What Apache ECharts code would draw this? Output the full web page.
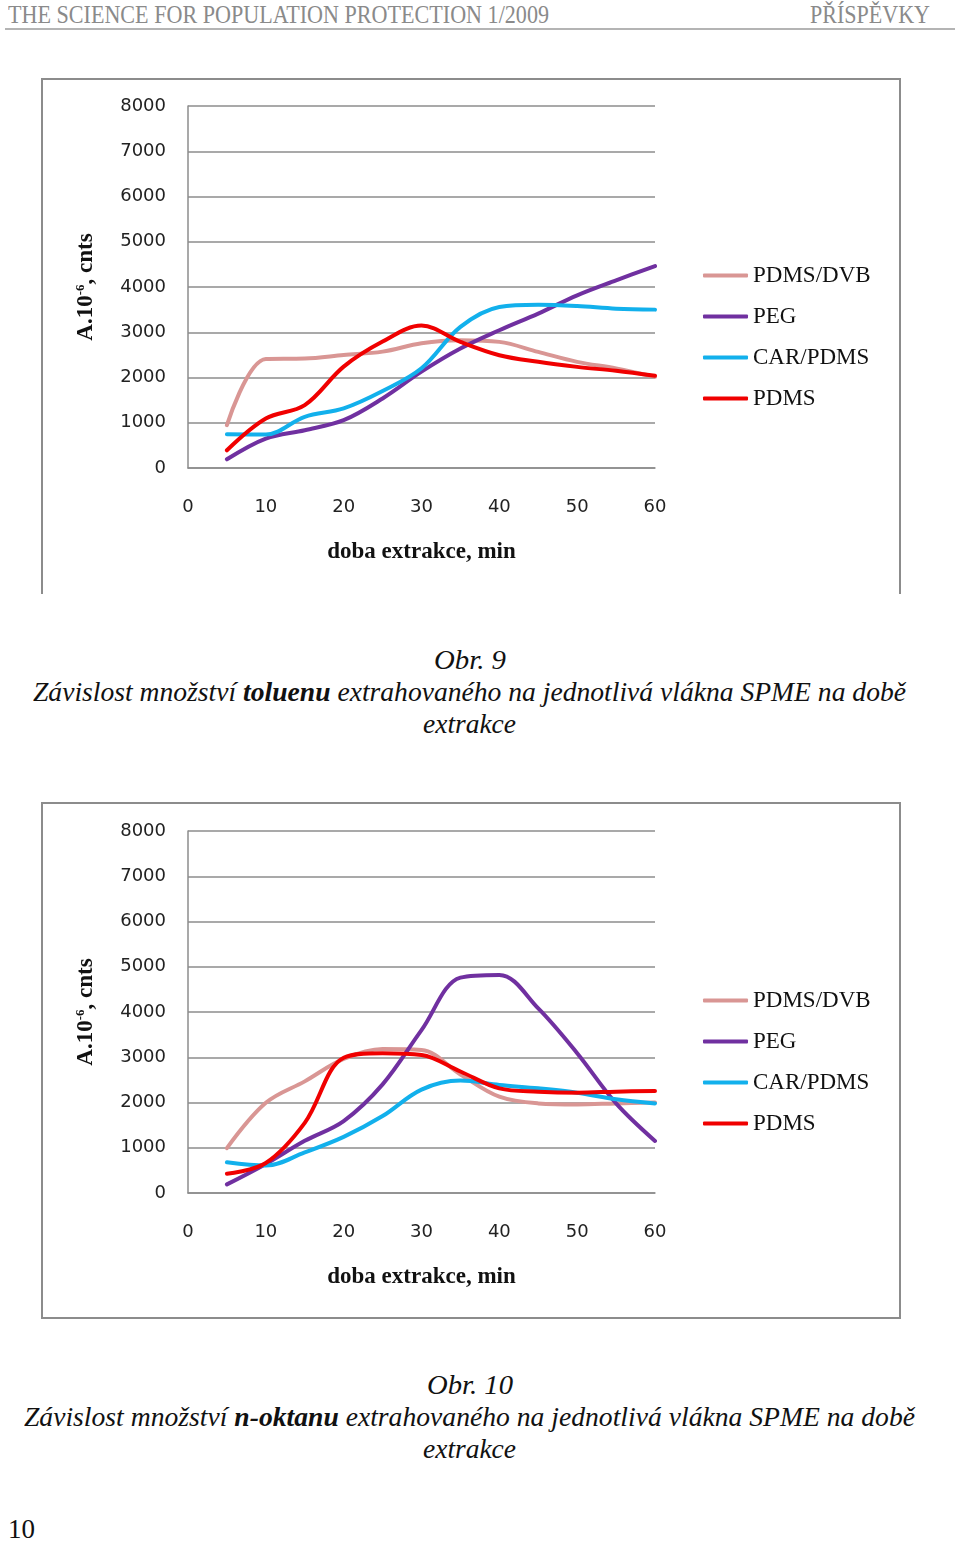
<!DOCTYPE html>
<html>
<head>
<meta charset="utf-8">
<script src="https://cdn.jsdelivr.net/npm/echarts@6/dist/echarts.min.js"></script>
<style>
html,body{margin:0;padding:0;background:#fff;}
body{width:960px;height:1543px;position:relative;overflow:hidden;}
.t{position:absolute;white-space:nowrap;transform-origin:0 50%;font-family:"Liberation Serif","Times New Roman",serif;}
.hdr{color:#8a8a8a;font-size:25px;line-height:30px;}
.cap{color:#111;font-size:28px;line-height:32px;font-style:italic;}
.frame{position:absolute;left:41px;width:856px;border:2px solid #8c8c8c;}
</style>
</head>
<body>
<div class="t hdr" data-w="541" style="left:8px;top:0px;">THE SCIENCE FOR POPULATION PROTECTION 1/2009</div>
<div class="t hdr" data-w="120" style="left:810px;top:0px;">PŘÍSPĚVKY</div>
<div style="position:absolute;left:5px;top:28px;width:950px;height:2px;background:#b4b4b4;"></div>

<div class="frame" style="top:78px;height:514px;border-bottom:none;"><div id="c1" style="width:856px;height:514px;"></div></div>
<div class="frame" style="top:802px;height:513px;"><div id="c2" style="width:856px;height:513px;"></div></div>

<div class="t cap" data-w="72" style="left:434px;top:644px;">Obr. 9</div>
<div class="t cap" data-w="873" style="left:33px;top:676px;">Závislost množství <b>toluenu</b> extrahovaného na jednotlivá vlákna SPME na době</div>
<div class="t cap" data-w="93" style="left:423px;top:708px;">extrakce</div>

<div class="t cap" data-w="86" style="left:427px;top:1369px;">Obr. 10</div>
<div class="t cap" data-w="891" style="left:24px;top:1401px;">Závislost množství <b>n-oktanu</b> extrahovaného na jednotlivá vlákna SPME na době</div>
<div class="t cap" data-w="93" style="left:423px;top:1433px;">extrakce</div>

<div class="t cap" data-w="27" style="left:8px;top:1513px;font-style:normal;">10</div>

<script>
// ---- data ----
var minutes = [5, 10, 15, 20, 25, 30, 35, 40, 45, 50, 55, 60];
var seriesNames = ['PDMS/DVB', 'PEG', 'CAR/PDMS', 'PDMS'];
var seriesColors = ['#D99694', '#7030A0', '#12B0EC', '#F00000'];
var xTicks = [0, 10, 20, 30, 40, 50, 60];
var yTicks = [0, 1000, 2000, 3000, 4000, 5000, 6000, 7000, 8000];

// Obr. 9 – toluen
var toluen_PDMS_DVB = [946, 2410, 2420, 2498, 2572, 2757, 2823, 2787, 2566, 2346, 2199, 2015];
var toluen_PEG      = [192, 650, 835, 1057, 1537, 2129, 2640, 3044, 3412, 3816, 4147, 4463];
var toluen_CAR_PDMS = [746, 739, 1131, 1316, 1700, 2203, 3118, 3559, 3610, 3581, 3522, 3500];
var toluen_PDMS     = [392, 1094, 1390, 2240, 2794, 3149, 2787, 2493, 2346, 2235, 2147, 2037];

// Obr. 10 – n-oktan
var oktan_PDMS_DVB = [993, 1993, 2467, 2963, 3182, 3160, 2620, 2128, 1980, 1957, 1980, 2000];
var oktan_PEG      = [190, 642, 1153, 1590, 2400, 3600, 4760, 4820, 4080, 3090, 1980, 1150];
var oktan_CAR_PDMS = [679, 606, 898, 1241, 1700, 2285, 2484, 2388, 2313, 2217, 2070, 1980];
var oktan_PDMS     = [423, 664, 1550, 2990, 3088, 3051, 2685, 2313, 2240, 2217, 2240, 2255];

// ---- fit page text widths ----
document.querySelectorAll('.t').forEach(function(el){
  var w = parseFloat(el.getAttribute('data-w'));
  var nat = el.getBoundingClientRect().width;
  if (nat > 0) el.style.transform = 'scaleX(' + (w / nat) + ')';
});

function pairs(vals){ return minutes.map(function(m, i){ return [m, vals[i]]; }); }

function makeOption(sets, gridTop){
  var gridH = 362;
  return {
    animation: false,
    backgroundColor: '#fff',
    grid: { left: 145, top: gridTop, width: 467, height: gridH },
    legend: {
      orient: 'vertical', left: 655, top: gridTop + 153,
      itemWidth: 45, itemHeight: 4, itemGap: 18, icon: 'roundRect',
      data: seriesNames,
      textStyle: { fontFamily: 'Liberation Serif', fontSize: 23, color: '#111', lineHeight: 21 }
    },
    xAxis: {
      type: 'value', min: 0, max: 60, interval: 10,
      axisLine: { show: true, onZero: false, lineStyle: { color: '#8c8c8c', width: 1.5 } },
      axisTick: { show: false },
      splitLine: { show: false },
      axisLabel: { margin: 30, fontFamily: 'DejaVu Sans', fontSize: 18, color: '#222',
        formatter: function(v){ return xTicks.indexOf(v) >= 0 ? String(v) : ''; } },
      name: 'doba extrakce, min', nameLocation: 'middle', nameGap: 73,
      nameTextStyle: { fontFamily: 'Liberation Serif', fontWeight: 'bold', fontSize: 23, color: '#111' }
    },
    yAxis: {
      type: 'value', min: 0, max: 8000, interval: 1000,
      axisLine: { show: true, lineStyle: { color: '#8c8c8c', width: 1.5 } },
      axisTick: { show: false },
      splitLine: { show: true, lineStyle: { color: '#8c8c8c', width: 1.5 } },
      axisLabel: { margin: 22, fontFamily: 'DejaVu Sans', fontSize: 18, color: '#222',
        formatter: function(v){ return yTicks.indexOf(v) >= 0 ? String(v) : ''; } },
      name: '{a|A.10}{s|-6}{a|, cnts}', nameLocation: 'middle', nameGap: 90, nameRotate: 90,
      nameTextStyle: {
        rich: {
          a: { fontFamily: 'Liberation Serif', fontWeight: 'bold', fontSize: 23, color: '#111', lineHeight: 24, verticalAlign: 'bottom' },
          s: { fontFamily: 'Liberation Serif', fontWeight: 'bold', fontSize: 13, color: '#111', lineHeight: 24, verticalAlign: 'top' }
        }
      }
    },
    series: sets.map(function(vals, i){
      return {
        name: seriesNames[i], type: 'line', data: pairs(vals),
        smooth: 0.35, showSymbol: false, symbol: 'none',
        lineStyle: { width: 4, color: seriesColors[i], cap: 'round' },
        itemStyle: { color: seriesColors[i] }
      };
    })
  };
}

var c1 = echarts.init(document.getElementById('c1'), null, { renderer: 'canvas' });
c1.setOption(makeOption([toluen_PDMS_DVB, toluen_PEG, toluen_CAR_PDMS, toluen_PDMS], 26));
var c2 = echarts.init(document.getElementById('c2'), null, { renderer: 'canvas' });
c2.setOption(makeOption([oktan_PDMS_DVB, oktan_PEG, oktan_CAR_PDMS, oktan_PDMS], 27));
</script>
</body>
</html>
